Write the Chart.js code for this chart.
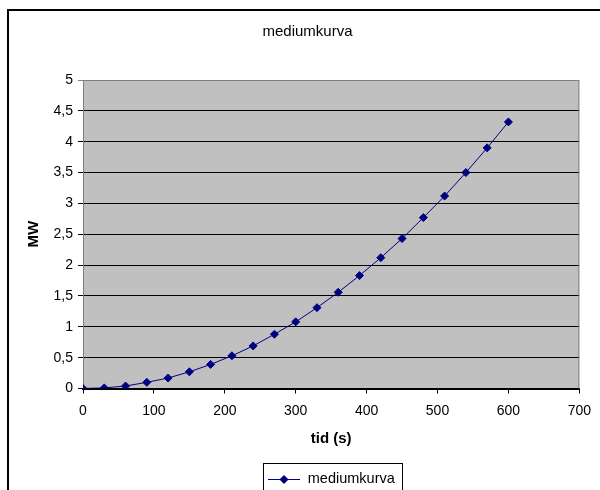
<!DOCTYPE html>
<html>
<head>
<meta charset="utf-8">
<script src="https://cdn.jsdelivr.net/npm/chart.js@4/dist/chart.umd.min.js"></script>
<style>
html,body{margin:0;padding:0;background:#fff;}
#wrap{position:relative;width:600px;height:490px;overflow:hidden;}
#frame{position:absolute;left:7px;top:9px;width:640px;height:540px;border:2px solid #000;box-sizing:border-box;}
#c{position:absolute;left:0;top:0;}
</style>
</head>
<body>
<div id="wrap">
<div id="frame"></div>
<canvas id="c" width="600" height="490"></canvas>
</div>
<script>
// tid (s) and effekt (MW)
var tid=[0,30,60,90,120,150,180,210,240,270,300,330,360,390,420,450,480,510,540,570,600];
var mw=[0,0.01,0.04,0.10,0.17,0.27,0.39,0.53,0.69,0.88,1.08,1.31,1.56,1.83,2.12,2.43,2.77,3.12,3.50,3.90,4.32];
var seriesName="mediumkurva";
var chartTitle="mediumkurva";
var xTitle="tid (s)";
var yTitle="MW";

var navy="#000080";
var fontFam="'Liberation Sans', Arial, sans-serif";

var points=[];
for (var i=0; i<tid.length; i++) points.push({x: tid[i], y: mw[i]});

function diamond(ctx, x, y, r) {
	ctx.beginPath();
	ctx.moveTo(x, y-r);
	ctx.lineTo(x+r, y);
	ctx.lineTo(x, y+r);
	ctx.lineTo(x-r, y);
	ctx.closePath();
	ctx.fill();
}

var plotBg={
	id: 'plotBg',
	beforeDraw: function(chart) {
		var a=chart.chartArea, ctx=chart.ctx;
		ctx.save();
		ctx.fillStyle="#c0c0c0";
		ctx.fillRect(a.left, a.top, a.right-a.left, a.bottom-a.top);
		ctx.restore();
	},
	afterLayout: function(chart) {
		// shift title and legend like excel places them
		chart.titleBlock.left+=28;
		var lg=chart.legend;
		var h=lg.height;
		lg.top=462; lg.bottom=lg.top+h;
	},
	afterDraw: function(chart) {
		var ctx=chart.ctx, a=chart.chartArea;
		ctx.save();
		// plot border top/right
		ctx.strokeStyle="#808080";
		ctx.lineWidth=1;
		ctx.beginPath();
		ctx.moveTo(a.left, a.top+0.5);
		ctx.lineTo(a.right-0.5, a.top+0.5);
		ctx.lineTo(a.right-0.5, a.bottom);
		ctx.stroke();
		// legend: line with marker and a box around it
		var lg=chart.legend;
		var hb=lg.legendHitBoxes[0];
		if (hb) {
			var cx=hb.left+16.5;
			var cy=Math.round(hb.top+hb.height/2)+0.5;
			ctx.strokeStyle=navy;
			ctx.fillStyle=navy;
			ctx.beginPath();
			ctx.moveTo(cx-16, cy);
			ctx.lineTo(cx+16, cy);
			ctx.stroke();
			diamond(ctx, cx, cy, 4.5);
			ctx.strokeStyle="#000";
			ctx.strokeRect(Math.round(hb.left-5)+0.5, Math.round(hb.top-9)+0.5, Math.round(hb.width+12), 40);
		}
		ctx.restore();
	}
};

window.onload=function() {
	new Chart(document.getElementById('c').getContext('2d'), {
		type: 'line',
		data: {
			datasets: [{
				label: seriesName,
				data: points,
				borderColor: navy,
				backgroundColor: navy,
				borderWidth: 1,
				pointStyle: 'rectRot',
				pointRadius: 4,
				pointBorderWidth: 1,
				pointBorderColor: navy,
				pointBackgroundColor: navy,
				tension: 0,
				fill: false
			}]
		},
		options: {
			responsive: false,
			animation: false,
			layout: {padding: {left: 7, right: 20, top: 0, bottom: 0}},
			plugins: {
				title: {
					display: true,
					text: chartTitle,
					color: '#000',
					font: {family: fontFam, size: 15, weight: 'normal'},
					padding: {top: 23, bottom: 39}
				},
				legend: {
					display: true,
					position: 'bottom',
					fullSize: false,
					labels: {
						boxWidth: 33,
						padding: 10,
						color: '#000',
						font: {family: fontFam, size: 14.5},
						generateLabels: function(chart) {
							var items=Chart.defaults.plugins.legend.labels.generateLabels(chart);
							items.forEach(function(it) {
								it.fillStyle='rgba(0,0,0,0)';
								it.strokeStyle='rgba(0,0,0,0)';
								it.lineWidth=0;
							});
							return items;
						}
					}
				},
				tooltip: {enabled: false}
			},
			scales: {
				x: {
					type: 'linear',
					min: 0, max: 700,
					ticks: {stepSize: 100, color: '#000', padding: 9, maxRotation: 0,
						font: {family: fontFam, size: 14}},
					grid: {drawOnChartArea: false, drawTicks: true, tickLength: 5, color: '#000'},
					border: {display: true, color: '#000', width: 2},
					title: {display: true, text: xTitle, color: '#000', padding: {top: 0, bottom: 8},
						font: {family: fontFam, size: 15, weight: 'bold'}},
					afterFit: function(s) { s.height=67; }
				},
				y: {
					min: 0, max: 5,
					ticks: {stepSize: 0.5, color: '#000', padding: 5,
						font: {family: fontFam, size: 14},
						callback: function(v) { return String(v).replace('.', ','); }},
					grid: {drawTicks: true, tickLength: 5,
						color: function(c) { return c.tick && c.tick.value==5 ? '#808080' : '#000'; }},
					border: {display: true, color: '#808080', width: 1},
					title: {display: true, text: yTitle, color: '#000', padding: {top: 18, bottom: 0},
						font: {family: fontFam, size: 15, weight: 'bold'}},
					afterFit: function(s) { s.width=76; }
				}
			}
		},
		plugins: [plotBg]
	});
}
</script>
</body>
</html>
